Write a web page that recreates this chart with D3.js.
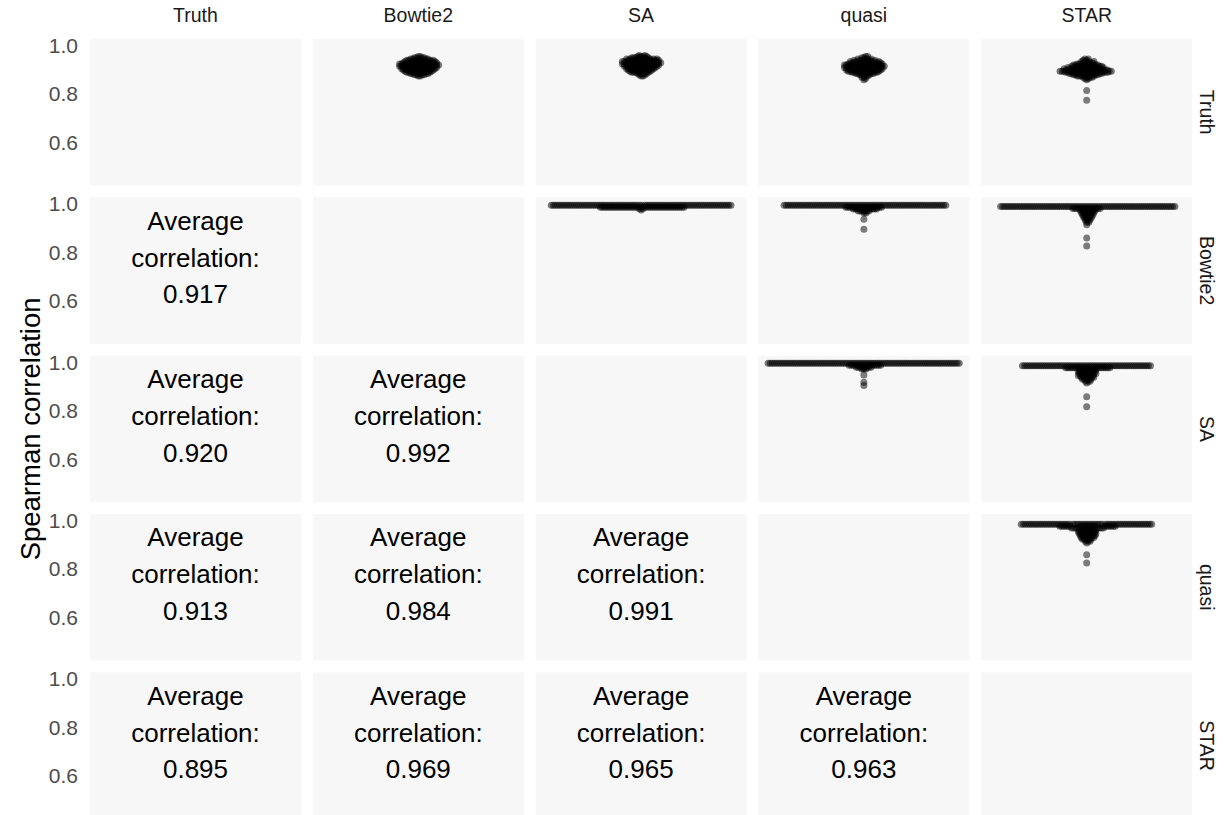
<!DOCTYPE html>
<html>
<head>
<meta charset="utf-8">
<script src="https://cdn.jsdelivr.net/npm/d3@7"></script>
<style>
  html, body { margin: 0; padding: 0; background: #ffffff; }
  svg { display: block; font-family: "Liberation Sans", Arial, sans-serif; }
</style>
</head>
<body>
<svg id="chart" width="1228" height="815"></svg>
<script>
// Aligners compared pairwise; facet rows and columns use the same order.
const methods = ["Truth", "Bowtie2", "SA", "quasi", "STAR"];
const yTicks = [0.6, 0.8, 1.0];

// Average Spearman correlation for each lower-triangle pair [row, column].
const averagePairs = [
  ["Bowtie2", "Truth"], ["SA", "Truth"], ["SA", "Bowtie2"],
  ["quasi", "Truth"], ["quasi", "Bowtie2"], ["quasi", "SA"],
  ["STAR", "Truth"], ["STAR", "Bowtie2"], ["STAR", "SA"], ["STAR", "quasi"]
];
const averageValues = [0.917, 0.920, 0.992, 0.913, 0.984, 0.991, 0.895, 0.969, 0.965, 0.963];

// Per-sample correlations for each upper-triangle pair, as value / count bins.
const truthBowtie2Values = [0.875, 0.880, 0.885, 0.890, 0.895, 0.900, 0.905, 0.910, 0.915, 0.920, 0.925, 0.930, 0.935, 0.940, 0.945, 0.950, 0.955];
const truthBowtie2Counts = [2, 4, 6, 7, 8, 9, 10, 10, 11, 11, 11, 10, 9, 8, 6, 4, 2];

const truthSAValues = [0.875, 0.880, 0.885, 0.890, 0.895, 0.900, 0.905, 0.910, 0.915, 0.920, 0.925, 0.930, 0.935, 0.940, 0.945, 0.950, 0.955, 0.960];
const truthSACounts = [2, 2, 4, 6, 6, 8, 8, 9, 10, 10, 11, 11, 11, 10, 9, 6, 4, 2];

const truthQuasiValues = [0.860, 0.865, 0.870, 0.875, 0.880, 0.885, 0.890, 0.895, 0.900, 0.905, 0.910, 0.915, 0.920, 0.925, 0.930, 0.935, 0.940, 0.945, 0.950, 0.955];
const truthQuasiCounts = [1, 1, 2, 2, 4, 6, 8, 9, 10, 10, 11, 11, 11, 10, 9, 8, 6, 4, 2, 2];

const truthSTARValues = [0.775, 0.815, 0.860, 0.865, 0.870, 0.875, 0.880, 0.885, 0.890, 0.895, 0.900, 0.905, 0.910, 0.915, 0.920, 0.925, 0.930, 0.935, 0.940, 0.945];
const truthSTARCounts = [1, 1, 1, 2, 4, 6, 8, 10, 13, 15, 13, 11, 10, 9, 8, 6, 4, 4, 2, 2];

const bowtie2SAValues = [0.975, 0.980, 0.987, 0.995];
const bowtie2SACounts = [1, 2, 40, 86];

const bowtie2QuasiValues = [0.896, 0.937, 0.963, 0.971, 0.979, 0.987, 0.995];
const bowtie2QuasiCounts = [1, 1, 2, 6, 12, 18, 78];

const bowtie2STARValues = [0.827, 0.860, 0.915, 0.925, 0.933, 0.941, 0.949, 0.957, 0.965, 0.973, 0.981, 0.990];
const bowtie2STARCounts = [1, 1, 1, 2, 3, 4, 5, 6, 7, 8, 14, 84];

const saQuasiValues = [0.904, 0.918, 0.948, 0.972, 0.980, 0.988, 0.996];
const saQuasiCounts = [1, 1, 1, 3, 8, 16, 92];

const saSTARValues = [0.817, 0.858, 0.915, 0.922, 0.930, 0.938, 0.946, 0.954, 0.962, 0.970, 0.978, 0.986];
const saSTARCounts = [1, 1, 1, 3, 5, 7, 8, 9, 9, 9, 22, 62];

const quasiSTARValues = [0.825, 0.859, 0.908, 0.915, 0.923, 0.931, 0.939, 0.947, 0.955, 0.963, 0.970, 0.977, 0.985];
const quasiSTARCounts = [1, 1, 1, 3, 5, 7, 8, 9, 9, 9, 8, 20, 62];

const swarmPairs = [
  ["Truth", "Bowtie2", truthBowtie2Values, truthBowtie2Counts],
  ["Truth", "SA", truthSAValues, truthSACounts],
  ["Truth", "quasi", truthQuasiValues, truthQuasiCounts],
  ["Truth", "STAR", truthSTARValues, truthSTARCounts],
  ["Bowtie2", "SA", bowtie2SAValues, bowtie2SACounts],
  ["Bowtie2", "quasi", bowtie2QuasiValues, bowtie2QuasiCounts],
  ["Bowtie2", "STAR", bowtie2STARValues, bowtie2STARCounts],
  ["SA", "quasi", saQuasiValues, saQuasiCounts],
  ["SA", "STAR", saSTARValues, saSTARCounts],
  ["quasi", "STAR", quasiSTARValues, quasiSTARCounts]
];

// ---- layout ----
const svg = d3.select("#chart");
const col = d3.scaleBand().domain(methods).range([90, 1192.2]).paddingInner(0.053).paddingOuter(0);
const row = d3.scaleBand().domain(methods).range([39, 818.8]).paddingInner(0.0745).paddingOuter(0);
const panelH = row.bandwidth();
const panelW = col.bandwidth();
// y scale inside a panel (offset from the panel top)
const y = d3.scaleLinear().domain([0.4235, 1.0276]).range([panelH, 0]);

const pointRadius = 3.5;
const swarmGap = 2.1;

// Beeswarm placement: points taken in ascending order, each put at the
// horizontal offset nearest the centre that keeps the minimum spacing.
function swarm(ys, gap) {
  const placed = [];
  ys.forEach(py => {
    const cands = [0];
    placed.forEach(p => {
      const dy = Math.abs(p.y - py);
      if (dy < gap) {
        const dx = Math.sqrt(gap * gap - dy * dy);
        cands.push(p.x + dx, p.x - dx);
      }
    });
    cands.sort((a, b) => Math.abs(a) - Math.abs(b) || b - a);
    let chosen = 0;
    for (const cx of cands) {
      let ok = true;
      for (const p of placed) {
        const ddx = p.x - cx, ddy = p.y - py;
        if (ddx * ddx + ddy * ddy < gap * gap - 1e-6) { ok = false; break; }
      }
      if (ok) { chosen = cx; break; }
    }
    placed.push({ x: chosen, y: py });
  });
  return placed;
}

// panel backgrounds
methods.forEach(r => {
  methods.forEach(c => {
    svg.append("rect")
      .attr("x", col(c)).attr("y", row(r))
      .attr("width", panelW).attr("height", panelH)
      .attr("fill", "#f7f7f7");
  });
});

// clip each panel
const defs = svg.append("defs");
methods.forEach(r => methods.forEach(c => {
  defs.append("clipPath").attr("id", `clip-${r}-${c}`)
    .append("rect").attr("x", 0).attr("y", 0).attr("width", panelW).attr("height", panelH);
}));

// y axes on the left of every row
methods.forEach(r => {
  const g = svg.append("g").attr("transform", `translate(${col(methods[0])},${row(r)})`);
  const axis = d3.axisLeft(y).tickValues(yTicks).tickFormat(d3.format(".1f")).tickSize(0).tickPadding(12);
  g.call(axis);
  g.select(".domain").remove();
  g.selectAll("text").attr("fill", "#4d4d4d").style("font-size", "21px");
});

// column strips (top)
svg.append("g").selectAll("text").data(methods).join("text")
  .attr("x", d => col(d) + panelW / 2)
  .attr("y", 22)
  .attr("text-anchor", "middle")
  .attr("fill", "#1a1a1a")
  .style("font-size", "19.5px")
  .text(d => d);

// row strips (right)
svg.append("g").selectAll("text").data(methods).join("text")
  .attr("transform", d => `translate(1207,${row(d) + panelH / 2}) rotate(90)`)
  .attr("text-anchor", "middle")
  .attr("dominant-baseline", "central")
  .attr("fill", "#1a1a1a")
  .style("font-size", "19.5px")
  .text(d => d);

// y axis title
svg.append("text")
  .attr("transform", `translate(30,${(row(methods[0]) + row(methods[4]) + panelH) / 2}) rotate(-90)`)
  .attr("text-anchor", "middle")
  .attr("dominant-baseline", "central")
  .attr("fill", "#000")
  .style("font-size", "27.5px")
  .text("Spearman correlation");

// swarms in the upper triangle
swarmPairs.forEach(([r, c, vals, counts]) => {
  const ys = [];
  vals.forEach((v, i) => { for (let k = 0; k < counts[i]; k++) ys.push(y(v)); });
  ys.sort((a, b) => b - a); // ascending correlation = descending pixel y
  const pts = swarm(ys, swarmGap);
  const g = svg.append("g")
    .attr("transform", `translate(${col(c)},${row(r)})`)
    .attr("clip-path", `url(#clip-${r}-${c})`);
  g.selectAll("circle").data(pts).join("circle")
    .attr("cx", d => panelW / 2 + d.x)
    .attr("cy", d => d.y)
    .attr("r", pointRadius)
    .attr("fill", "#000")
    .attr("fill-opacity", 0.5);
});

// average correlation text in the lower triangle
const fmt = d3.format(".3f");
averagePairs.forEach(([r, c], i) => {
  const t = svg.append("text")
    .attr("x", col(c) + panelW / 2)
    .attr("text-anchor", "middle")
    .attr("fill", "#000")
    .style("font-size", "26px");
  const lines = ["Average", "correlation:", fmt(averageValues[i])];
  lines.forEach((ln, k) => {
    t.append("tspan")
      .attr("x", col(c) + panelW / 2)
      .attr("y", row(r) + 32.5 + k * 36.8)
      .text(ln);
  });
});
</script>
</body>
</html>
